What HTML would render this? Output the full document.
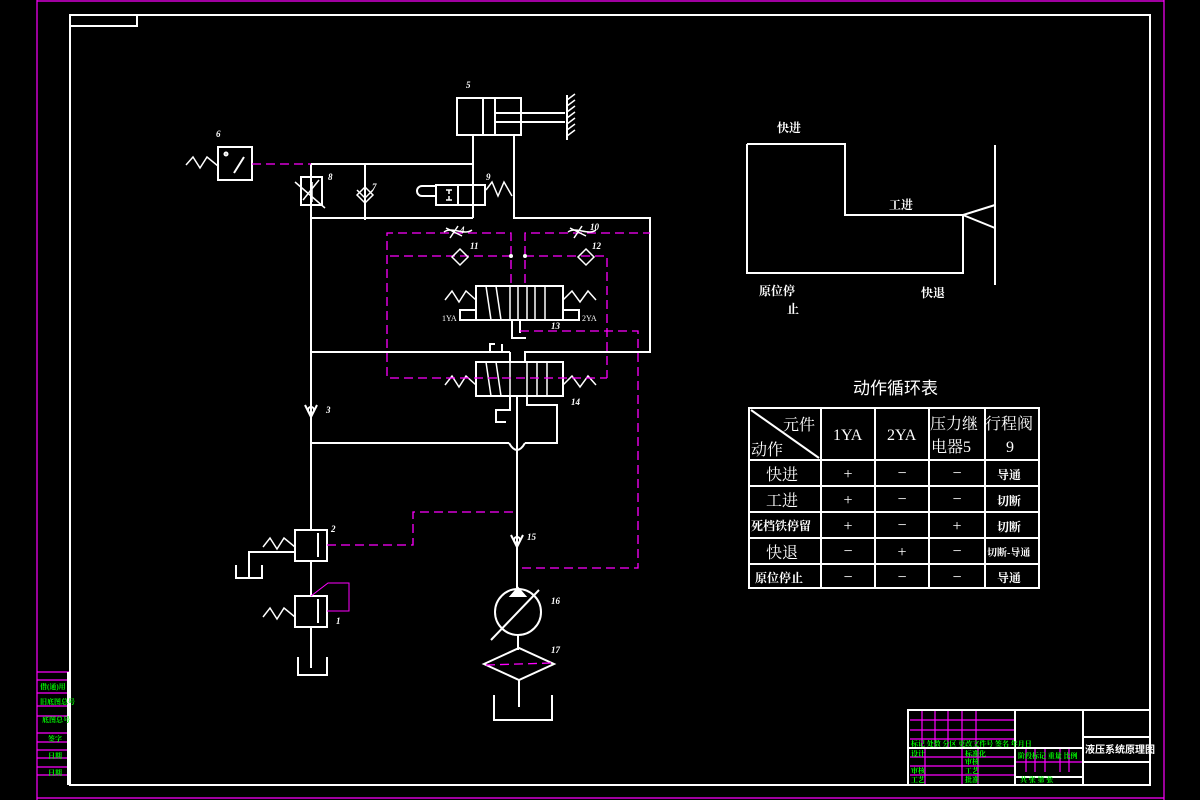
<!DOCTYPE html>
<html><head><meta charset="utf-8"><style>
html,body{margin:0;padding:0;background:#000;width:1200px;height:800px;overflow:hidden}
svg{display:block}
text{font-family:"Liberation Serif","Noto Serif CJK SC","Noto Sans CJK SC",serif;fill:#fff}
.b{font-family:"Liberation Sans","Noto Sans CJK SC",sans-serif;font-weight:bold}
</style></head><body>
<svg width="1200" height="800" viewBox="0 0 1200 800" xmlns="http://www.w3.org/2000/svg">
<g fill="none" stroke="#f0f" stroke-width="1.2">
<line x1="37" y1="0" x2="37" y2="800"/><line x1="1164" y1="0" x2="1164" y2="800"/>
<line x1="37" y1="798" x2="1164" y2="798"/><line x1="37" y1="1" x2="1164" y2="1"/>
<line x1="37" y1="672" x2="70" y2="672"/><line x1="37" y1="680" x2="70" y2="680"/><line x1="37" y1="693" x2="70" y2="693"/><line x1="37" y1="706" x2="70" y2="706"/><line x1="37" y1="716" x2="70" y2="716"/><line x1="37" y1="733" x2="70" y2="733"/><line x1="37" y1="742" x2="70" y2="742"/><line x1="37" y1="750" x2="70" y2="750"/><line x1="37" y1="758" x2="70" y2="758"/><line x1="37" y1="767" x2="70" y2="767"/><line x1="37" y1="775" x2="70" y2="775"/>
<!-- title block grid -->
<line x1="910" y1="720" x2="1015" y2="720"/><line x1="910" y1="730" x2="1015" y2="730"/><line x1="910" y1="739" x2="1015" y2="739"/><line x1="910" y1="757" x2="1015" y2="757"/><line x1="910" y1="766" x2="1015" y2="766"/><line x1="910" y1="775" x2="1015" y2="775"/>
<line x1="922" y1="710" x2="922" y2="748"/><line x1="935" y1="710" x2="935" y2="748"/><line x1="948" y1="710" x2="948" y2="748"/><line x1="962" y1="710" x2="962" y2="748"/><line x1="976" y1="710" x2="976" y2="748"/>
<line x1="925" y1="748" x2="925" y2="785"/><line x1="962" y1="748" x2="962" y2="785"/><line x1="978" y1="748" x2="978" y2="785"/>
<line x1="1015" y1="762" x2="1083" y2="762"/><line x1="1026" y1="748" x2="1026" y2="772"/><line x1="1035" y1="748" x2="1035" y2="772"/><line x1="1045" y1="748" x2="1045" y2="772"/><line x1="1060" y1="748" x2="1060" y2="772"/><line x1="1069" y1="748" x2="1069" y2="772"/>
</g>
<g fill="none" stroke="#fff" stroke-width="2">
<rect x="70" y="15" width="1080" height="770"/>
<polyline points="70,26 137,26 137,15"/>
<line x1="68" y1="672" x2="68" y2="785"/>
<rect x="908" y="710" width="242" height="75"/>
<line x1="1015" y1="710" x2="1015" y2="785"/><line x1="1083" y1="710" x2="1083" y2="785"/>
<line x1="1083" y1="737" x2="1150" y2="737"/><line x1="1083" y1="762" x2="1150" y2="762"/>
<line x1="908" y1="748" x2="1083" y2="748"/><line x1="1015" y1="777" x2="1083" y2="777"/>
</g>
<g fill="#0f0" font-size="7" class="b">
<text x="40" y="689" style="fill:#0f0">借(通)用</text><text x="40" y="692" style="fill:#0f0"></text>
<text x="40" y="704" style="fill:#0f0">旧底图总号</text><text x="42" y="722" style="fill:#0f0">底图总号</text>
<text x="48" y="741" style="fill:#0f0">签字</text><text x="48" y="758" style="fill:#0f0">日期</text><text x="48" y="775" style="fill:#0f0">日期</text>
<text x="911" y="746" style="fill:#0f0">标记 处数 分区 更改文件号 签名 年月日</text>
<text x="911" y="756" style="fill:#0f0">设计</text><text x="965" y="756" style="fill:#0f0">标准化</text>
<text x="965" y="764" style="fill:#0f0">审核</text><text x="911" y="773" style="fill:#0f0">审核</text><text x="965" y="773" style="fill:#0f0">工艺</text>
<text x="911" y="782" style="fill:#0f0">工艺</text><text x="965" y="782" style="fill:#0f0">批准</text>
<text x="1018" y="758" style="fill:#0f0">阶段标记 重量 比例</text><text x="1020" y="782" style="fill:#0f0">共   张 第   张</text>
</g>
<text x="1085" y="753" font-size="10" class="b">液压系统原理图</text>

<!-- hydraulic circuit -->
<g fill="none" stroke="#fff" stroke-width="2">
<rect x="457" y="98" width="64" height="37"/><line x1="483" y1="98" x2="483" y2="135"/><line x1="495" y1="98" x2="495" y2="135"/>
<line x1="495" y1="113" x2="565" y2="113"/><line x1="495" y1="122" x2="565" y2="122"/>
<line x1="567" y1="95" x2="567" y2="140"/>
<path d="M567 100l8-6M567 106l8-6M567 112l8-6M567 118l8-6M567 124l8-6M567 130l8-6M567 136l8-6" stroke-width="1.5"/>
<polyline points="473,135 473,218"/><polyline points="514,135 514,218 650,218 650,352 525,352 525,362"/>
<polyline points="311,164 473,164"/><polyline points="311,218 473,218"/>
<line x1="311" y1="164" x2="311" y2="530"/><line x1="365" y1="164" x2="365" y2="220"/>
<rect x="301" y="177" width="21" height="28"/><path d="M295 182l30 26M303 200l16-20M312 182v20" stroke-width="1.5"/>
<path d="M357 195l8-8 8 8-8 8z M357 190l8 8 8-8" stroke-width="1.5"/>
<rect x="436" y="185" width="49" height="20"/><line x1="458" y1="185" x2="458" y2="205"/>
<path d="M436 186h-14a5 5 0 0 0 0 10h14"/><path d="M446 190h6M449 190v4M446 200h6M449 200v-4" stroke-width="1.5"/>
<polyline points="486,190 492,182 498,196 504,182 512,196" stroke-width="1.5"/>
<rect x="218" y="147" width="34" height="33"/><path d="M234 173l10-16" stroke-width="2"/><circle cx="226" cy="154" r="1.5"/>
<polyline points="186,165 193,157 200,168 207,157 218,166" stroke-width="1.5"/>
<!-- valve 13 -->
<rect x="476" y="286" width="87" height="34"/>
<path d="M486 286l5 34M496 286l5 34M510 286v34M518 286v34M527 286v34M535 286v34M545 286v34" stroke-width="1.5"/>
<rect x="460" y="310" width="16" height="10"/><rect x="563" y="310" width="16" height="10"/>
<polyline points="445,300 452,291 459,302 466,291 476,300" stroke-width="1.5"/>
<polyline points="563,300 572,291 580,302 588,291 596,300" stroke-width="1.5"/>
<polyline points="512,320 512,338 526,338"/><polyline points="520,320 520,333"/>
<polyline points="495,344 490,344 490,352 502,352 502,344"/>
<line x1="311" y1="352" x2="510" y2="352"/><line x1="510" y1="352" x2="510" y2="362"/>
<!-- valve 14 -->
<rect x="476" y="362" width="87" height="34"/>
<path d="M486 362l5 34M496 362l5 34M510 362v34M527 362v34M537 362v34M547 362v34" stroke-width="1.5"/>
<polyline points="445,385 452,376 459,387 466,376 476,385" stroke-width="1.5"/>
<polyline points="563,385 572,376 580,387 588,376 596,385" stroke-width="1.5"/>
<polyline points="510,396 510,410 496,410 496,422 506,422"/>
<polyline points="517,396 517,448"/><polyline points="527,396 527,405 557,405 557,443 525,443"/>
<line x1="311" y1="443" x2="509" y2="443"/><path d="M509 443q8 14 16 0"/>
<line x1="517" y1="448" x2="517" y2="588"/>
<path d="M305 405l6 12 6-12" /><circle cx="311" cy="410" r="3"/>
<path d="M511 535l6 12 6-12"/><circle cx="517" cy="540" r="3"/>
<!-- valves 2 & 1 -->
<rect x="295" y="530" width="32" height="31"/><line x1="318" y1="533" x2="318" y2="557"/>
<polyline points="263,547 270,538 277,549 284,538 295,547" stroke-width="1.5"/>
<polyline points="295,552 249,552 249,578"/><polyline points="236,565 236,578 262,578 262,565"/>
<line x1="311" y1="561" x2="311" y2="596"/>
<rect x="295" y="596" width="32" height="31"/><line x1="318" y1="599" x2="318" y2="623"/>
<polyline points="263,617 270,608 277,619 284,608 295,617" stroke-width="1.5"/>
<line x1="311" y1="627" x2="311" y2="668"/><polyline points="298,657 298,675 327,675 327,657"/>
<!-- pump -->
<circle cx="518" cy="612" r="23"/><path d="M491 640l48-50" /><path d="M511 596h14l-7-8z" fill="#fff"/>
<line x1="518" y1="635" x2="518" y2="650"/>
<path d="M484 664l35-16 35 16-35 16z"/><line x1="519" y1="680" x2="519" y2="707"/>
<polyline points="494,695 494,720 552,720 552,695"/>
<!-- graph -->
<polyline points="747,144 845,144 845,215 963,215 963,273 747,273 747,144"/>
<line x1="995" y1="145" x2="995" y2="285"/><polyline points="995,205 963,215 995,228"/>
<!-- table -->
<rect x="749" y="408" width="290" height="180"/>
<line x1="821" y1="408" x2="821" y2="588"/><line x1="875" y1="408" x2="875" y2="588"/><line x1="929" y1="408" x2="929" y2="588"/><line x1="985" y1="408" x2="985" y2="588"/>
<line x1="749" y1="460" x2="1039" y2="460"/><line x1="749" y1="486" x2="1039" y2="486"/><line x1="749" y1="512" x2="1039" y2="512"/><line x1="749" y1="538" x2="1039" y2="538"/><line x1="749" y1="564" x2="1039" y2="564"/>
<line x1="751" y1="410" x2="819" y2="458"/>
</g>
<g fill="none" stroke="#f0f" stroke-width="1.3" stroke-dasharray="9,5">
<line x1="252" y1="164" x2="311" y2="164"/>
<polyline points="511,283 511,233 387,233 387,378 607,378"/><polyline points="511,256 387,256"/>
<polyline points="525,283 525,233 650,233"/><polyline points="525,256 607,256 607,378"/>
<polyline points="520,331 638,331 638,568 517,568"/>
<polyline points="327,545 413,545 413,512 517,512"/>
<polyline points="311,596 328,583 349,583 349,611 327,611" stroke-dasharray="none" stroke-width="1"/>
<line x1="486" y1="665" x2="552" y2="663"/>
</g>
<circle cx="511" cy="256" r="2" fill="#fff"/><circle cx="525" cy="256" r="2" fill="#fff"/>
<g fill="none" stroke="#fff" stroke-width="1.5">
<path d="M452 257l8-8 8 8-8 8z"/><path d="M578 257l8-8 8 8-8 8z"/>
<path d="M444 232c8-6 20 4 28-2M446 228l16 8M458 226l-8 12"/><path d="M568 232c8-6 20 4 28-2M570 228l16 8M582 226l-8 12"/>
</g>
<g class="b" font-size="9" font-style="italic">
<text x="466" y="88">5</text><text x="216" y="137">6</text><text x="328" y="180">8</text><text x="372" y="190">7</text><text x="486" y="180">9</text>
<text x="460" y="233">4</text><text x="590" y="230">10</text><text x="470" y="249">11</text><text x="592" y="249">12</text>
<text x="551" y="329">13</text><text x="571" y="405">14</text><text x="326" y="413">3</text>
<text x="331" y="532">2</text><text x="336" y="624">1</text><text x="527" y="540">15</text><text x="551" y="604">16</text><text x="551" y="653">17</text>
</g>
<text x="442" y="321" font-size="8">1YA</text><text x="582" y="321" font-size="8">2YA</text>
<g class="b" font-size="12">
<text x="777" y="132">快进</text><text x="889" y="209">工进</text><text x="759" y="295">原位停</text><text x="787" y="313">止</text><text x="921" y="297">快退</text>
</g>
<text x="853" y="394" font-size="17" class="b" style="font-weight:normal;font-family:'Noto Sans CJK SC',sans-serif">动作循环表</text>
<g font-size="16" font-family="Liberation Serif, Noto Sans CJK SC, serif">
<text x="783" y="430">元件</text><text x="751" y="455">动作</text>
<text x="833" y="440">1YA</text><text x="887" y="440">2YA</text>
<text x="930" y="429">压力继</text><text x="931" y="452">电器5</text><text x="985" y="429">行程阀</text><text x="1006" y="452">9</text>
<text x="766" y="480">快进</text><text x="766" y="506">工进</text><text x="766" y="558">快退</text>
</g>
<g class="b" font-size="12">
<text x="751" y="530">死档铁停留</text><text x="755" y="582">原位停止</text>
<text x="997" y="479">导通</text><text x="997" y="505">切断</text><text x="997" y="531">切断</text><text x="987" y="556" font-size="10">切断-导通</text><text x="997" y="582">导通</text>
</g>
<g font-size="16" text-anchor="middle">
<text x="848" y="479">+</text><text x="902" y="478">−</text><text x="957" y="478">−</text>
<text x="848" y="505">+</text><text x="902" y="504">−</text><text x="957" y="504">−</text>
<text x="848" y="531">+</text><text x="902" y="530">−</text><text x="957" y="531">+</text>
<text x="848" y="556">−</text><text x="902" y="557">+</text><text x="957" y="556">−</text>
<text x="848" y="582">−</text><text x="902" y="582">−</text><text x="957" y="582">−</text>
</g>
</svg>
</body></html>
